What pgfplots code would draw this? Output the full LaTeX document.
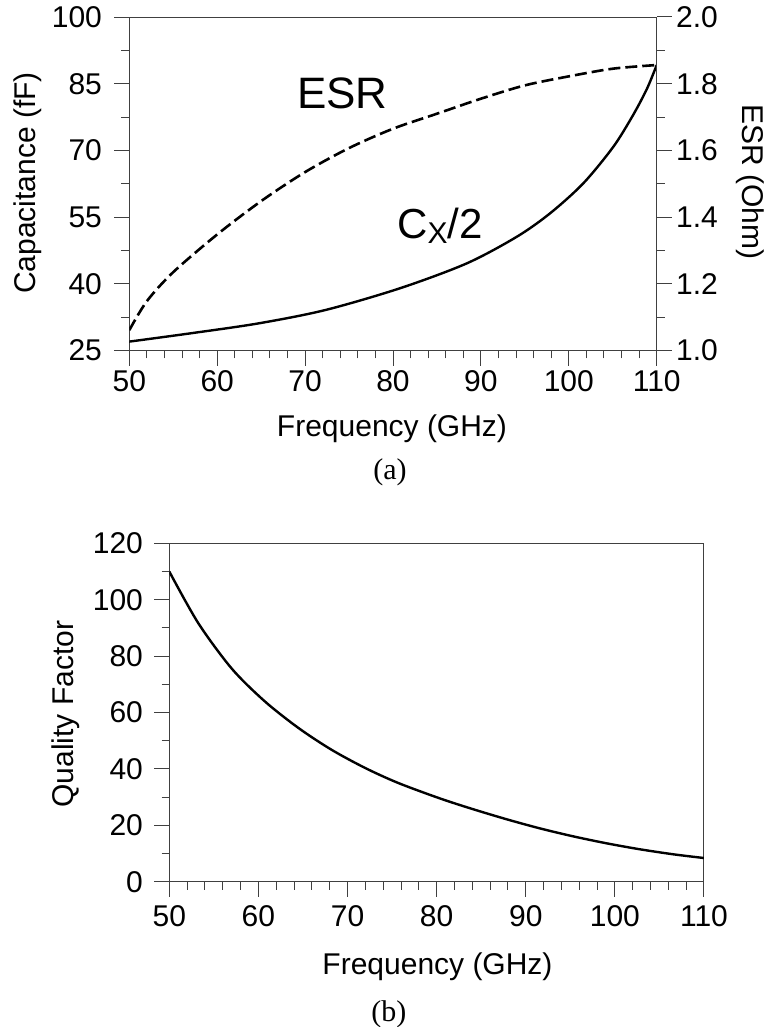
\documentclass[border=0pt]{standalone}
\usepackage{fontspec}
\setmainfont{Liberation Sans}
\newfontfamily\capfont{Liberation Serif}
\usepackage{pgfplots}
\pgfplotsset{compat=1.18}

\newcommand\lblfont{\fontsize{15}{18}\selectfont}

\pgfplotsset{
  panel/.style={
    scale only axis,
    anchor=south west,
    xmin=50, xmax=110,
    xtick={50,60,...,110},
    minor x tick num=4,
    tick align=outside,
    major tick length=7.5pt,
    minor tick length=3.9pt,
    axis line style={black!75, line width=0.5pt},
    tick style={black!75, line width=0.5pt},
    tick label style={font=\lblfont, inner sep=0pt},
    /pgf/number format/assume math mode=true,
    xticklabel style={anchor=north, yshift=-2.5pt},
  }
}

\begin{document}
\begin{tikzpicture}
\useasboundingbox (0,0) rectangle (383pt,-513.5pt);

% (a) capacitance, left axis
\begin{axis}[panel, at={(64.65pt,-175.25pt)}, width=263.7pt, height=166.75pt,
  ymin=25, ymax=100, ytick={25,40,...,100}, minor y tick num=1,
  tick pos=left,
  yticklabel style={anchor=east, xshift=-6pt},
]
\addplot[black, line width=1.2pt, smooth] coordinates {
  (50,27.0) (57.1,28.9) (64.7,31.1) (72.3,34.1) (80.8,39.0) (88.4,44.6)
  (94.1,50.6) (97.9,55.9) (101.65,62.6) (105.06,70.8) (107.3,77.9)
  (108.9,83.9) (110,89.2)
};
\end{axis}

% (a) ESR, right axis
\begin{axis}[panel, at={(64.65pt,-175.25pt)}, width=263.7pt, height=166.75pt,
  ymin=1, ymax=2, ytick={1.0,1.2,1.4,1.6,1.8,2.0}, minor y tick num=1,
  axis y line*=right, hide x axis,
  yticklabel style={anchor=west, xshift=2pt,
    /pgf/number format/.cd, fixed, fixed zerofill, precision=1},
]
\addplot[black, line width=1.3pt, dash pattern=on 6pt off 2.5pt, smooth] coordinates {
  (50,1.061) (52,1.148) (55,1.235) (60,1.348) (65,1.448) (70,1.535)
  (75,1.607) (80,1.665) (85,1.710) (90,1.755) (95,1.795) (100,1.822)
  (105,1.845) (110,1.856)
};
\end{axis}

% (b) quality factor
\begin{axis}[panel, at={(84.65pt,-440.85pt)}, width=267.35pt, height=169.2pt,
  ymin=0, ymax=120, ytick={0,20,...,120}, minor y tick num=1,
  tick pos=left,
  yticklabel style={anchor=east, xshift=-5.5pt},
  xticklabel style={yshift=-1.5pt},
]
\addplot[black, line width=1.2pt, smooth] coordinates {
  (50,110.0) (53.25,91.7) (57,75.6) (60.7,64.0) (64.5,54.5) (68.2,46.8)
  (72,40.3) (75.7,35.0) (80.4,29.5) (84.1,25.7) (87.9,22.1) (91.6,18.9)
  (95.3,16.1) (99.1,13.6) (102.8,11.5) (106.6,9.7) (110,8.4)
};
\end{axis}

% labels
\node[rotate=90, font=\lblfont] at (14pt,-91.5pt) {Capacitance (fF)};
\node[rotate=-90, font=\lblfont] at (375pt,-91pt) {ESR (Ohm)};
\node[anchor=base, font=\lblfont] at (196pt,-218pt) {Frequency (GHz)};
\node[font=\capfont\lblfont] at (195pt,-236pt) {(a)};
\node[anchor=base west, font=\fontsize{22}{24}\selectfont] at (145pt,-54.2pt) {ESR};
\node[anchor=base west, font=\fontsize{21}{24}\selectfont, inner sep=0pt] at (198.5pt,-119.2pt)
  {C\raisebox{-0.12em}{\fontsize{15}{16}\selectfont X}/2};

\node[rotate=90, font=\lblfont] at (33pt,-357pt) {Quality Factor};
\node[anchor=base, font=\lblfont] at (218.75pt,-487pt) {Frequency (GHz)};
\node[font=\capfont\lblfont] at (194.4pt,-507pt) {(b)};
\end{tikzpicture}
\end{document}
